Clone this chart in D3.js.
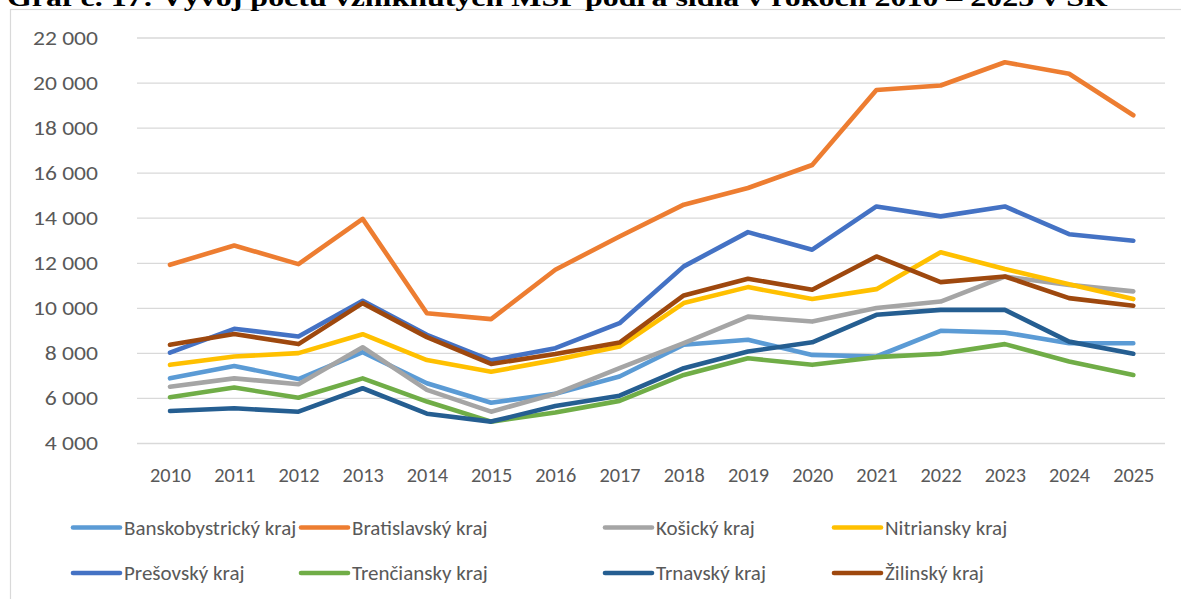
<!DOCTYPE html>
<html>
<head>
<meta charset="utf-8">
<script src="https://cdn.jsdelivr.net/npm/d3@7"></script>
<style>
  html, body { margin: 0; padding: 0; background: #fff; }
  svg { display: block; }
  text { font-family: Carlito, Lato, "Liberation Sans", sans-serif; }
</style>
</head>
<body>
<svg id="chart" width="1181" height="599"></svg>
<script>
const years = ["2010","2011","2012","2013","2014","2015","2016","2017","2018","2019","2020","2021","2022","2023","2024","2025"];
const yTicks = [4000, 6000, 8000, 10000, 12000, 14000, 16000, 18000, 20000, 22000];
const seriesNames = ["Banskobystrický kraj","Bratislavský kraj","Košický kraj","Nitriansky kraj","Prešovský kraj","Trenčiansky kraj","Trnavský kraj","Žilinský kraj"];
const seriesColors = ["#5B9BD5","#ED7D31","#A5A5A5","#FFC000","#4472C4","#70AD47","#255E91","#9E480E"];
const banskobystricky = [6870, 7420, 6840, 8030, 6650, 5790, 6180, 6950, 8360, 8580, 7910, 7840, 8980, 8900, 8430, 8430];
const bratislavsky    = [11910, 12770, 11940, 13950, 9760, 9500, 11690, 13170, 14580, 15320, 16340, 19670, 19870, 20900, 20390, 18550];
const kosicky         = [6500, 6870, 6610, 8250, 6360, 5390, 6180, 7320, 8430, 9610, 9390, 9990, 10280, 11390, 11020, 10730];
const nitriansky      = [7470, 7840, 7990, 8830, 7680, 7160, 7690, 8280, 10210, 10920, 10390, 10830, 12470, 11720, 11050, 10390];
const presovsky       = [8010, 9070, 8730, 10310, 8800, 7670, 8210, 9320, 11840, 13360, 12580, 14500, 14060, 14500, 13270, 12980];
const trenciansky     = [6030, 6460, 6010, 6870, 5840, 4950, 5350, 5870, 7020, 7760, 7470, 7810, 7960, 8390, 7620, 7020];
const trnavsky        = [5420, 5540, 5390, 6430, 5300, 4950, 5640, 6100, 7320, 8060, 8470, 9690, 9910, 9910, 8500, 7960];
const zilinsky        = [8360, 8840, 8390, 10210, 8700, 7510, 7950, 8460, 10550, 11290, 10800, 12280, 11140, 11390, 10430, 10090];
const seriesValues = [banskobystricky, bratislavsky, kosicky, nitriansky, presovsky, trenciansky, trnavsky, zilinsky];
const titleText = "Graf č. 17: Vývoj počtu vzniknutých MSP podľa sídla v rokoch 2010 – 2025 v SR";

const svg = d3.select("#chart");

// outer frame (extends past the visible area)
svg.append("rect").attr("x", 10.5).attr("y", 9.5).attr("width", 1300).attr("height", 800)
  .attr("fill", "#fff").attr("stroke", "#D9D9D9").attr("stroke-width", 1.2);

// title, cut off at the top edge as in the reference
svg.append("text").attr("x", 7).attr("y", 6)
  .attr("textLength", 1100).attr("lengthAdjust", "spacingAndGlyphs")
  .style("font-family", "'Liberation Serif', 'Times New Roman', serif")
  .style("font-weight", "bold").style("font-size", "25px").attr("fill", "#000")
  .text(titleText);

const x = d3.scalePoint().domain(years).range([170, 1133.3]);
const y = d3.scaleLinear().domain([4000, 22000]).range([443, 37.5]);

const fmt = v => d3.format(",")(v).replace(",", " ");

// gridlines
const grid = svg.append("g").attr("transform", "translate(137,0)")
  .call(d3.axisLeft(y).tickValues(yTicks).tickSize(-1028).tickFormat(""));
grid.select(".domain").remove();
grid.selectAll("line").attr("stroke", "#D9D9D9").attr("stroke-width", 1.3);

// y axis labels
const yAx = svg.append("g").attr("transform", "translate(98,0)")
  .call(d3.axisLeft(y).tickValues(yTicks).tickSize(0).tickPadding(0).tickFormat(fmt));
yAx.select(".domain").remove();
yAx.selectAll("text").attr("fill", "#595959").style("font-size", "20.5px")
  .attr("textLength", function () {
    const s = this.textContent;
    const nd = s.replace(/\s/g, "").length, ns = s.length - nd;
    return nd * 11.7 + ns * 6.5;
  })
  .attr("lengthAdjust", "spacingAndGlyphs");

// x axis labels
const xAx = svg.append("g").attr("transform", "translate(0,468)")
  .call(d3.axisBottom(x).tickSize(0).tickPadding(0));
xAx.select(".domain").remove();
xAx.selectAll("text").attr("fill", "#595959").style("font-size", "20.3px");

// lines
const line = d3.line().x((d, i) => x(years[i])).y(d => y(d));
svg.append("g").selectAll("path").data(seriesValues).join("path")
  .attr("d", d => line(d))
  .attr("fill", "none")
  .attr("stroke", (d, i) => seriesColors[i])
  .attr("stroke-width", 4.6)
  .attr("stroke-linejoin", "round")
  .attr("stroke-linecap", "round");

// legend
const colX = [73, 301, 605, 834];
const rowY = [527.5, 573];
const leg = svg.append("g");
seriesNames.forEach((name, k) => {
  const cx = colX[k % 4], cy = rowY[Math.floor(k / 4)];
  leg.append("line").attr("x1", cx).attr("x2", cx + 47).attr("y1", cy).attr("y2", cy)
    .attr("stroke", seriesColors[k]).attr("stroke-width", 4.6).attr("stroke-linecap", "round");
  leg.append("text").attr("x", cx + 51).attr("y", cy).attr("dy", "0.35em")
    .attr("fill", "#595959").style("font-size", "21px").text(name);
});
</script>
</body>
</html>
